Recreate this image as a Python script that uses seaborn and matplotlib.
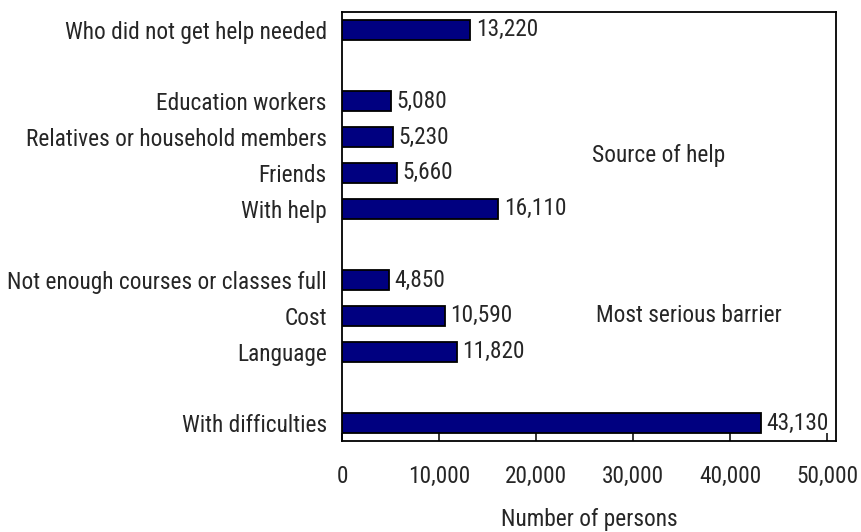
import matplotlib
matplotlib.use("Agg")
import matplotlib.pyplot as plt
import seaborn as sns
import pandas as pd
from matplotlib import font_manager

categories = ["Who did not get help needed", "Education workers", "Relatives or household members",
              "Friends", "With help", "Not enough courses or classes full", "Cost", "Language",
              "With difficulties"]
values = [13220, 5080, 5230, 5660, 16110, 4850, 10590, 11820, 43130]
order = ["Who did not get help needed", "gap1", "Education workers", "Relatives or household members",
         "Friends", "With help", "gap2", "Not enough courses or classes full", "Cost", "Language",
         "gap3", "With difficulties"]
xticks = [0, 10000, 20000, 30000, 40000, 50000]

sns.set_style("white")

# pick a condensed font if one is installed
fl = font_manager.fontManager.ttflist
names = {f.name for f in fl}
family, stretch = None, "normal"
for n in ["Liberation Sans Narrow", "Roboto Condensed", "Open Sans Condensed", "DejaVu Sans Condensed",
          "Noto Sans Condensed", "Arial Narrow"]:
    if n in names:
        family = n
        break
if family is None:
    for f in fl:
        st = str(f.stretch).lower()
        if ("condensed" in st or (st.isdigit() and int(st) < 500)) and f.name in (
                "Roboto", "DejaVu Sans", "Open Sans", "Noto Sans", "Liberation Sans", "Lato", "Inter"):
            if f.weight in (400, "normal", "regular", "book"):
                family, stretch = f.name, f.stretch
                break
if family is None:
    family = "Liberation Sans" if "Liberation Sans" in names else "DejaVu Sans"
plt.rcParams["font.family"] = [family, "DejaVu Sans"]
plt.rcParams["font.stretch"] = stretch

fig = plt.figure(figsize=(8.62, 5.32), dpi=100)
# size font so label widths match the reference
probe = fig.text(0, 0, "Who did not get help needed", fontsize=12)
fig.canvas.draw()
w = probe.get_window_extent().width
probe.remove()
fs = 12 * 262 / w

df = pd.DataFrame({"cat": categories, "val": values})
ax = fig.add_axes([342/862, 1-441/532, (836-342)/862, (441-12)/532])
sns.barplot(data=df, x="val", y="cat", order=order, orient="h", color="#000080",
            saturation=1, width=0.56, edgecolor="black", linewidth=1.3, ax=ax)
for c in ax.containers:
    ax.bar_label(c, labels=[f"{v:,.0f}" for v in c.datavalues], padding=4, fontsize=fs)
ax.set_xlim(0, 50900)
ax.set_ylim(11.5, -0.5)
ax.set_xticks(xticks)
ax.set_xticklabels([f"{t:,}" for t in xticks], fontsize=fs)
ax.set_yticks(range(len(order)))
ax.set_yticklabels(["" if o.startswith("gap") else o for o in order], fontsize=fs)
ax.tick_params(axis="x", direction="in", length=6, width=1.3, pad=17, bottom=True)
ax.tick_params(axis="y", length=0, pad=11)
for s in ax.spines.values():
    s.set_visible(True)
    s.set_color("black")
    s.set_linewidth(1.3)
ax.set_ylabel("")
ax.set_xlabel("Number of persons", fontsize=fs, labelpad=15)
ax.text(25800, 3.5, "Source of help", va="center", ha="left", fontsize=fs)
ax.text(26200, 8, "Most serious barrier", va="center", ha="left", fontsize=fs)
fig.savefig("out.png", dpi=100)
